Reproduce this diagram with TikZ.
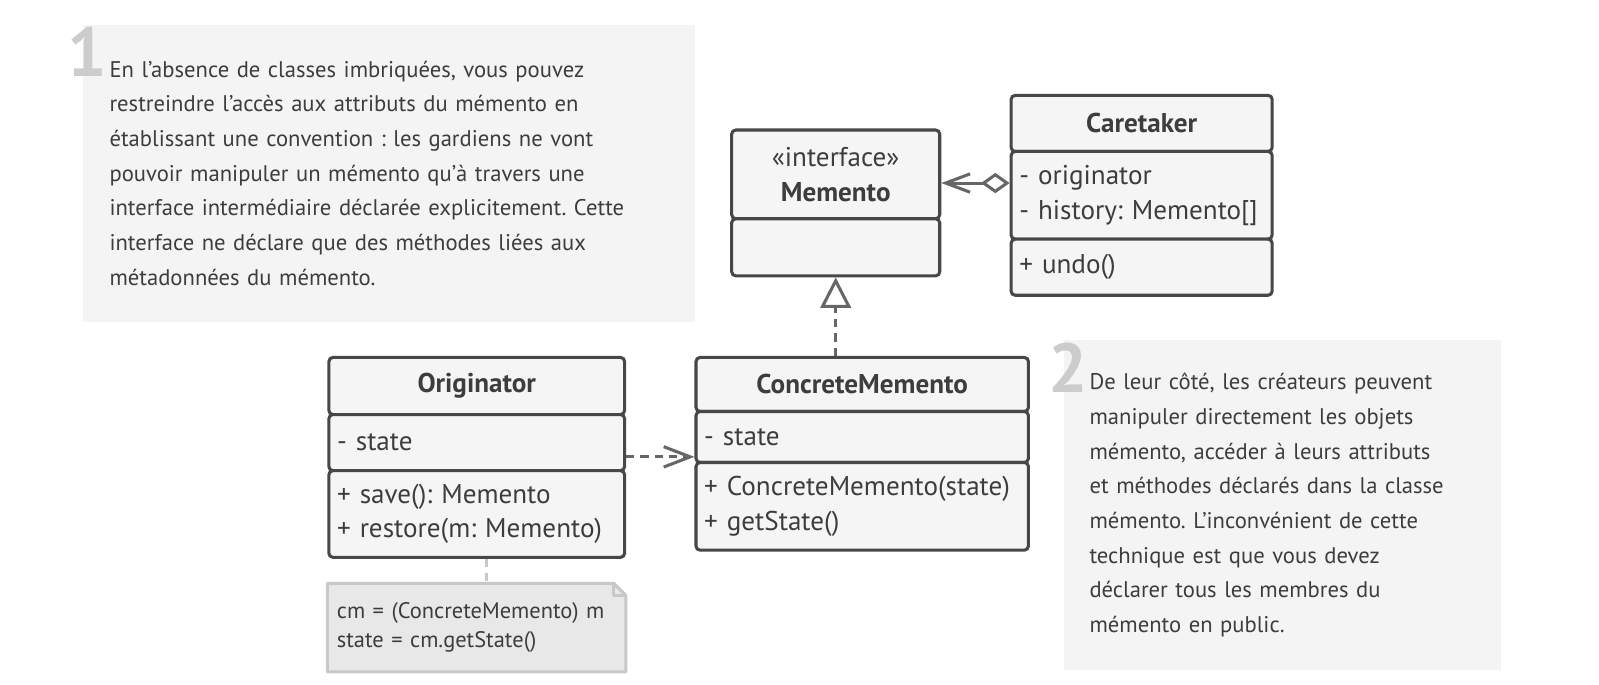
\documentclass[tikz,border=0pt]{standalone}
\usepackage{fontspec}
\setmainfont{PT Sans}
\usetikzlibrary{arrows.meta,backgrounds}
\definecolor{boxline}{HTML}{474747}
\definecolor{boxfill}{HTML}{F5F5F5}
\definecolor{ink}{HTML}{3D3D3D}
\definecolor{notefill}{HTML}{F4F4F4}
\definecolor{digitc}{HTML}{CCCCCC}
\definecolor{arrowc}{HTML}{666666}
\definecolor{codefill}{HTML}{E8E8E8}
\definecolor{codeline}{HTML}{C8C8C8}
\frenchspacing

\begin{document}
\begin{tikzpicture}[x=0.5pt,y=-0.5pt,
  part/.style={draw=boxline, fill=boxfill, line width=1.5pt, rounded corners=2pt,
    anchor=north west, inner xsep=4pt, inner ysep=0pt, text=ink,
    font=\fontsize{13.3}{17}\selectfont},
  title/.style={part, align=center, font=\fontsize{13.3}{17}\selectfont\bfseries},
  rows/.style={part, align=left, text width=#1},
  remark/.style={fill=notefill, anchor=north west, align=left, inner ysep=0pt,
    text=ink, font=\fontsize{11.1}{17}\selectfont},
  digit/.style={anchor=base west, inner sep=0pt, text=digitc,
    font=\fontsize{34}{34}\selectfont\bfseries},
  arrowline/.style={draw=arrowc, line width=1.5pt, line join=round},
  aggline/.style={arrowline, {Diamond[open,length=14pt,width=10pt]}-{Straight Barb[length=12pt,width=9pt]}},
  depline/.style={arrowline, dash pattern=on 4pt off 3pt, -{Straight Barb[length=13pt,width=10pt]}},
  realline/.style={arrowline, dash pattern=on 4pt off 3pt, -{Triangle[open,length=15pt,width=15pt]}},
  linkline/.style={draw=codeline, line width=1.5pt, dash pattern=on 4pt off 3pt}]
\useasboundingbox (0,0) rectangle (1568,671);

% notes
\node[remark, text width=274pt, inner xsep=13pt, minimum height=145.5pt] (note1) at (81,24)
  {En l’absence de classes imbriquées, vous pouvez\\
   restreindre l’accès aux attributs du mémento en\\
   établissant une convention : les gardiens ne vont\\
   pouvoir manipuler un mémento qu’à travers une\\
   interface intermédiaire déclarée explicitement. Cette\\
   interface ne déclare que des méthodes liées aux\\
   métadonnées du mémento.};
\node[digit] (num1) at (66,75) {1};

\node[remark, text width=189pt, inner xsep=12.5pt, minimum height=162pt] (note2) at (1043,333)
  {De leur côté, les créateurs peuvent\\
   manipuler directement les objets\\
   mémento, accéder à leurs attributs\\
   et méthodes déclarés dans la classe\\
   mémento. L’inconvénient de cette\\
   technique est que vous devez\\
   déclarer tous les membres du\\
   mémento en public.};
\node[digit] (num2) at (1028,385) {2};

% Memento
\node[part, align=center, minimum width=102pt, minimum height=43.5pt] (mhead) at (716,126)
  {«interface»\\\textbf{Memento}};
\node[part, minimum width=102pt, minimum height=28pt] (mbody) at (716,213) {};

% Caretaker
\node[title, minimum width=128pt, minimum height=27.5pt] (cthead) at (990,92) {Caretaker};
\node[rows=120pt, minimum height=43pt] (ctattr) at (990,147)
  {- originator\\- history: Memento[]};
\node[rows=120pt, minimum height=27.5pt] (ctmeth) at (990,233) {+ undo()};

% Originator
\node[title, minimum width=145pt, minimum height=28pt] (orhead) at (321,349) {Originator};
\node[rows=137pt, minimum height=27.5pt] (orattr) at (321,405) {- state};
\node[rows=137pt, minimum height=42.5pt] (ormeth) at (321,460)
  {+ save(): Memento\\+ restore(m: Memento)};

% ConcreteMemento
\node[title, minimum width=163pt, minimum height=26.5pt] (cmhead) at (681,349) {ConcreteMemento};
\node[rows=155pt, minimum height=25pt] (cmattr) at (681,402) {- state};
\node[rows=155pt, minimum height=43pt] (cmmeth) at (681,452)
  {+ ConcreteMemento(state)\\+ getState()};

% code note
\node[anchor=north west, align=left, text width=137pt, inner xsep=4.5pt, inner ysep=0pt,
  minimum height=43pt, text=ink, font=\fontsize{11}{14.5}\selectfont] (code) at (321,572)
  {cm = (ConcreteMemento) m\\state = cm.getState()};
\begin{scope}[on background layer]
\filldraw[fill=codefill, draw=codeline, line width=1.5pt, line join=round]
  (code.north west) -- ([xshift=-6pt]code.north east) -- ([yshift=-6pt]code.north east)
  -- (code.south east) -- (code.south west) -- cycle;
\draw[codeline, line width=1.5pt, line join=round]
  ([xshift=-6pt]code.north east) |- ([yshift=-6pt]code.north east);
\end{scope}

% links
\coordinate (agg) at ([yshift=6pt]ctattr.west);
\draw[aggline] (agg) -- (agg -| mhead.east);

\draw[realline] (cmhead.north -| mbody.south) -- (mbody.south);

\coordinate (dep) at ([yshift=-7pt]orattr.east);
\draw[depline] (dep) -- (dep -| cmattr.west);

\coordinate (lk) at ([xshift=5pt]ormeth.south);
\draw[linkline] (lk) -- (lk |- code.north);

\end{tikzpicture}
\end{document}
